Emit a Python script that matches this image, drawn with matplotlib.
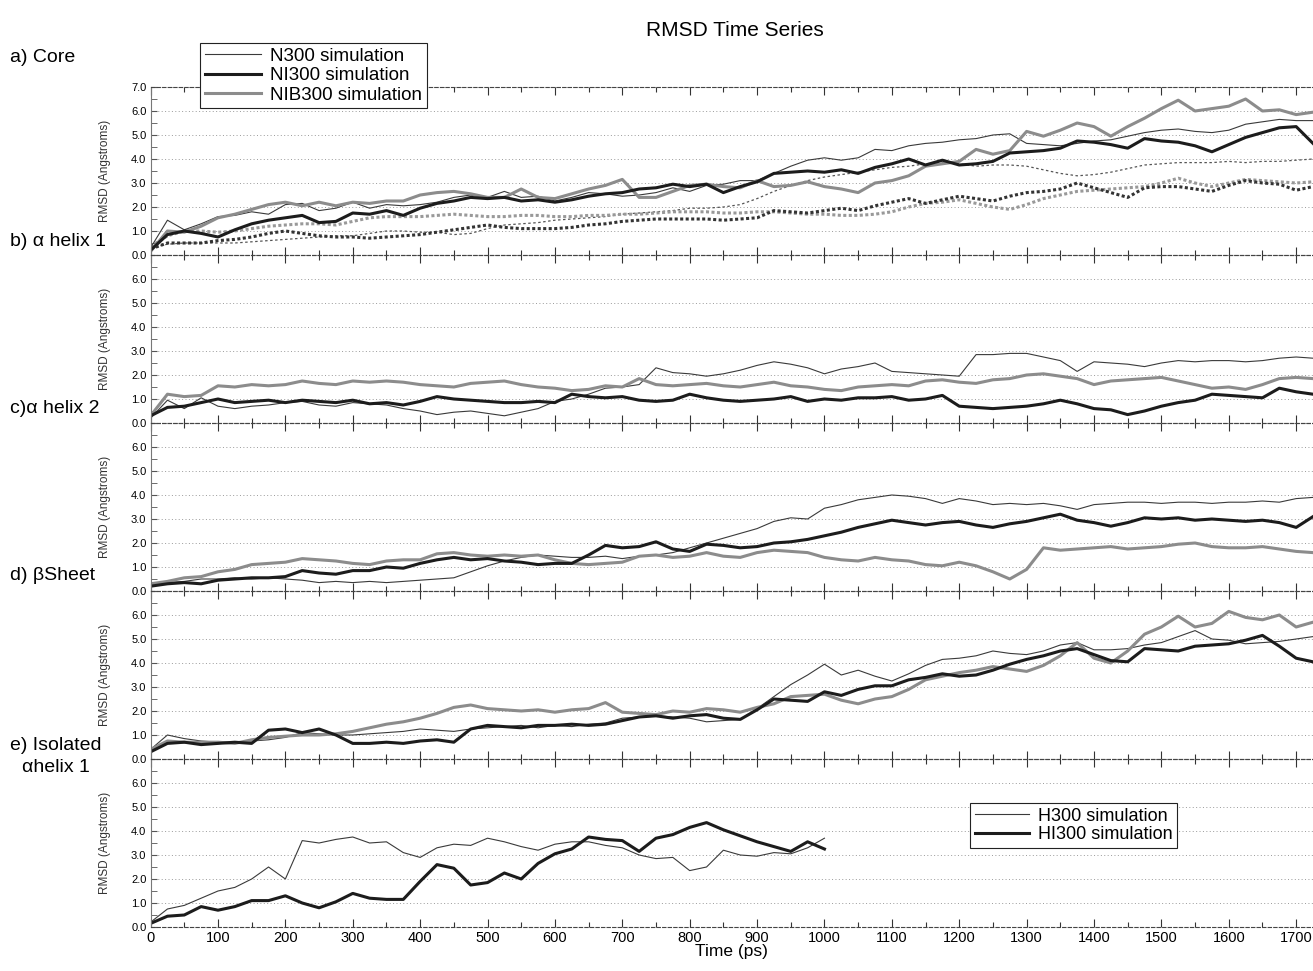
import numpy as np
import matplotlib
matplotlib.use("Agg")
import matplotlib.pyplot as plt
from matplotlib.ticker import MultipleLocator, FormatStrFormatter
from matplotlib.lines import Line2D

plt.rcParams['font.family'] = ['Liberation Sans', 'DejaVu Sans']

# sample times (ps)
time_ps = np.arange(0, 1750, 25)
time_iso = np.arange(0, 1025, 25)

# a) Core : solid = all atoms, dotted = second measure
core_N300 = [0.3, 1.45, 1.05, 1.3, 1.6, 1.65, 1.8, 1.7, 2.1, 2.15,
             1.85, 1.95, 2.2, 1.95, 2.1, 2.05, 2.1, 2.2, 2.4, 2.5,
             2.4, 2.65, 2.4, 2.45, 2.25, 2.4, 2.6, 2.55, 2.45, 2.5,
             2.6, 2.8, 2.65, 2.9, 2.95, 3.1, 3.1, 3.4, 3.7, 3.95,
             4.05, 3.95, 4.05, 4.4, 4.35, 4.55, 4.65, 4.7, 4.8, 4.85,
             5.0, 5.05, 4.65, 4.6, 4.55, 4.65, 4.75, 4.8, 4.95, 5.1,
             5.2, 5.25, 5.15, 5.1, 5.2, 5.45, 5.55, 5.65, 5.6, 5.6]
core_NI300 = [0.2, 0.85, 1.0, 0.9, 0.75, 1.05, 1.3, 1.45, 1.55, 1.65,
              1.35, 1.4, 1.75, 1.7, 1.85, 1.65, 1.95, 2.15, 2.25, 2.4,
              2.35, 2.4, 2.25, 2.3, 2.2, 2.3, 2.45, 2.55, 2.6, 2.75,
              2.8, 2.95, 2.85, 2.95, 2.6, 2.85, 3.05, 3.4, 3.45, 3.5,
              3.45, 3.55, 3.4, 3.65, 3.8, 4.0, 3.75, 3.95, 3.75, 3.8,
              3.9, 4.25, 4.3, 4.35, 4.45, 4.75, 4.7, 4.6, 4.45, 4.85,
              4.75, 4.7, 4.55, 4.3, 4.6, 4.9, 5.1, 5.3, 5.35, 4.65]
core_NIB300 = [0.15, 1.0, 0.95, 1.2, 1.55, 1.7, 1.9, 2.1, 2.2, 2.05,
               2.2, 2.05, 2.2, 2.15, 2.25, 2.25, 2.5, 2.6, 2.65, 2.55,
               2.4, 2.4, 2.75, 2.4, 2.35, 2.55, 2.75, 2.9, 3.15, 2.4,
               2.4, 2.65, 2.9, 2.95, 2.85, 2.8, 3.1, 2.85, 2.9, 3.05,
               2.85, 2.75, 2.6, 3.0, 3.1, 3.3, 3.7, 3.8, 3.9, 4.4,
               4.2, 4.35, 5.15, 4.95, 5.2, 5.5, 5.35, 4.95, 5.35, 5.7,
               6.1, 6.45, 6.0, 6.1, 6.2, 6.5, 6.0, 6.05, 5.85, 5.95]
core_N300_dot = [0.3, 0.45, 0.5, 0.5, 0.5, 0.5, 0.55, 0.6, 0.65, 0.7,
                 0.75, 0.8, 0.8, 0.9, 1.0, 1.0, 0.95, 0.95, 0.85, 0.9,
                 1.1, 1.25, 1.3, 1.35, 1.45, 1.5, 1.55, 1.6, 1.7, 1.75,
                 1.8, 1.85, 1.95, 1.95, 2.0, 2.1, 2.35, 2.65, 2.9, 3.1,
                 3.25, 3.35, 3.45, 3.55, 3.65, 3.7, 3.8, 3.85, 3.8, 3.7,
                 3.75, 3.75, 3.7, 3.55, 3.4, 3.3, 3.35, 3.45, 3.6, 3.75,
                 3.8, 3.85, 3.85, 3.85, 3.9, 3.85, 3.9, 3.9, 3.95, 4.0]
core_NI300_dot = [0.25, 0.5, 0.5, 0.5, 0.6, 0.65, 0.75, 0.9, 1.0, 0.9,
                  0.8, 0.75, 0.75, 0.7, 0.75, 0.8, 0.85, 0.95, 1.05, 1.15,
                  1.25, 1.15, 1.1, 1.1, 1.1, 1.15, 1.25, 1.3, 1.4, 1.45,
                  1.5, 1.5, 1.5, 1.5, 1.45, 1.5, 1.55, 1.85, 1.8, 1.75,
                  1.85, 1.95, 1.85, 2.05, 2.2, 2.35, 2.15, 2.3, 2.45, 2.35,
                  2.25, 2.45, 2.6, 2.65, 2.75, 3.0, 2.8, 2.6, 2.4, 2.8,
                  2.85, 2.85, 2.75, 2.65, 2.9, 3.1, 3.0, 2.95, 2.7, 2.85]
core_NIB300_dot = [0.35, 0.8, 1.0, 1.0, 0.95, 1.0, 1.1, 1.2, 1.25, 1.3,
                   1.3, 1.25, 1.4, 1.55, 1.6, 1.6, 1.6, 1.65, 1.7, 1.65,
                   1.6, 1.6, 1.65, 1.65, 1.6, 1.6, 1.65, 1.65, 1.7, 1.7,
                   1.75, 1.8, 1.8, 1.8, 1.75, 1.75, 1.8, 1.8, 1.75, 1.7,
                   1.7, 1.65, 1.65, 1.7, 1.8, 2.0, 2.15, 2.2, 2.3, 2.15,
                   2.0, 1.9, 2.1, 2.35, 2.5, 2.65, 2.7, 2.75, 2.8, 2.85,
                   3.0, 3.2, 3.0, 2.85, 3.0, 3.15, 3.1, 3.05, 3.0, 3.05]

# b) alpha helix 1
h1_N300 = [0.2, 0.95, 0.6, 1.05, 0.7, 0.6, 0.7, 0.75, 0.85, 0.9,
           0.75, 0.7, 0.85, 0.8, 0.75, 0.6, 0.5, 0.35, 0.45, 0.5,
           0.4, 0.3, 0.45, 0.6, 0.9, 1.0, 1.2, 1.45, 1.5, 1.6,
           2.3, 2.1, 2.05, 1.95, 2.05, 2.2, 2.4, 2.55, 2.45, 2.3,
           2.05, 2.25, 2.35, 2.5, 2.15, 2.1, 2.05, 2.0, 1.95, 2.85,
           2.85, 2.9, 2.9, 2.75, 2.6, 2.15, 2.55, 2.5, 2.45, 2.35,
           2.5, 2.6, 2.55, 2.6, 2.6, 2.55, 2.6, 2.7, 2.75, 2.7]
h1_NI300 = [0.3, 0.65, 0.7, 0.85, 1.0, 0.85, 0.9, 0.95, 0.85, 0.95,
            0.9, 0.85, 0.95, 0.8, 0.85, 0.75, 0.9, 1.1, 1.0, 0.95,
            0.9, 0.85, 0.85, 0.9, 0.85, 1.2, 1.1, 1.05, 1.1, 0.95,
            0.9, 0.95, 1.2, 1.05, 0.95, 0.9, 0.95, 1.0, 1.1, 0.9,
            1.0, 0.95, 1.05, 1.05, 1.1, 0.95, 1.0, 1.15, 0.7, 0.65,
            0.6, 0.65, 0.7, 0.8, 0.95, 0.8, 0.6, 0.55, 0.35, 0.5,
            0.7, 0.85, 0.95, 1.2, 1.15, 1.1, 1.05, 1.45, 1.3, 1.2]
h1_NIB300 = [0.3, 1.2, 1.1, 1.15, 1.55, 1.5, 1.6, 1.55, 1.6, 1.75,
             1.65, 1.6, 1.75, 1.7, 1.75, 1.7, 1.6, 1.55, 1.5, 1.65,
             1.7, 1.75, 1.6, 1.5, 1.45, 1.35, 1.4, 1.55, 1.5, 1.85,
             1.6, 1.55, 1.6, 1.65, 1.55, 1.5, 1.6, 1.7, 1.55, 1.5,
             1.4, 1.35, 1.5, 1.55, 1.6, 1.55, 1.75, 1.8, 1.7, 1.65,
             1.8, 1.85, 2.0, 2.05, 1.95, 1.85, 1.6, 1.75, 1.8, 1.85,
             1.9, 1.75, 1.6, 1.45, 1.5, 1.4, 1.6, 1.85, 1.9, 1.85]

# c) alpha helix 2
h2_N300 = [0.2, 0.35, 0.4, 0.5, 0.5, 0.55, 0.5, 0.55, 0.5, 0.45,
           0.35, 0.4, 0.35, 0.4, 0.35, 0.4, 0.45, 0.5, 0.55, 0.8,
           1.05, 1.25, 1.4, 1.5, 1.45, 1.4, 1.4, 1.45, 1.35, 1.45,
           1.5, 1.6, 1.8, 2.0, 2.2, 2.4, 2.6, 2.9, 3.05, 3.0,
           3.45, 3.6, 3.8, 3.9, 4.0, 3.95, 3.85, 3.65, 3.85, 3.75,
           3.6, 3.65, 3.6, 3.65, 3.55, 3.4, 3.6, 3.65, 3.7, 3.7,
           3.65, 3.7, 3.7, 3.65, 3.7, 3.7, 3.75, 3.7, 3.85, 3.9]
h2_NI300 = [0.2, 0.3, 0.35, 0.3, 0.45, 0.5, 0.55, 0.55, 0.6, 0.85,
            0.75, 0.7, 0.85, 0.85, 1.0, 0.95, 1.15, 1.3, 1.4, 1.3,
            1.35, 1.25, 1.2, 1.1, 1.15, 1.15, 1.5, 1.9, 1.8, 1.85,
            2.05, 1.75, 1.65, 1.95, 1.9, 1.8, 1.85, 2.0, 2.05, 2.15,
            2.3, 2.45, 2.65, 2.8, 2.95, 2.85, 2.75, 2.85, 2.9, 2.75,
            2.65, 2.8, 2.9, 3.05, 3.2, 2.95, 2.85, 2.7, 2.85, 3.05,
            3.0, 3.05, 2.95, 3.0, 2.95, 2.9, 2.95, 2.85, 2.65, 3.1]
h2_NIB300 = [0.3, 0.4, 0.55, 0.6, 0.8, 0.9, 1.1, 1.15, 1.2, 1.35,
             1.3, 1.25, 1.15, 1.1, 1.25, 1.3, 1.3, 1.55, 1.6, 1.5,
             1.45, 1.5, 1.45, 1.5, 1.3, 1.15, 1.1, 1.15, 1.2, 1.45,
             1.5, 1.4, 1.45, 1.6, 1.45, 1.4, 1.6, 1.7, 1.65, 1.6,
             1.4, 1.3, 1.25, 1.4, 1.3, 1.25, 1.1, 1.05, 1.2, 1.05,
             0.8, 0.5, 0.9, 1.8, 1.7, 1.75, 1.8, 1.85, 1.75, 1.8,
             1.85, 1.95, 2.0, 1.85, 1.8, 1.8, 1.85, 1.75, 1.65, 1.6]

# d) beta sheet
bs_N300 = [0.4, 1.0, 0.85, 0.75, 0.7, 0.7, 0.75, 0.8, 0.9, 1.1,
           1.05, 1.0, 1.0, 1.05, 1.1, 1.15, 1.25, 1.2, 1.15, 1.25,
           1.3, 1.35, 1.4, 1.3, 1.4, 1.35, 1.45, 1.5, 1.7, 1.75,
           1.8, 1.75, 1.7, 1.55, 1.6, 1.65, 2.1, 2.6, 3.1, 3.5,
           3.95, 3.5, 3.7, 3.45, 3.25, 3.55, 3.9, 4.15, 4.2, 4.3,
           4.5, 4.4, 4.35, 4.5, 4.75, 4.85, 4.55, 4.55, 4.6, 4.75,
           4.85, 5.1, 5.35, 5.0, 4.95, 4.8, 4.85, 4.9, 5.0, 5.1]
bs_NI300 = [0.3, 0.65, 0.7, 0.6, 0.65, 0.7, 0.65, 1.2, 1.25, 1.1,
            1.25, 1.0, 0.65, 0.65, 0.7, 0.65, 0.75, 0.8, 0.7, 1.25,
            1.4, 1.35, 1.3, 1.4, 1.4, 1.45, 1.4, 1.45, 1.6, 1.75,
            1.8, 1.7, 1.8, 1.85, 1.7, 1.65, 2.05, 2.5, 2.45, 2.4,
            2.8, 2.65, 2.9, 3.05, 3.05, 3.3, 3.4, 3.55, 3.45, 3.5,
            3.7, 3.95, 4.15, 4.3, 4.5, 4.6, 4.35, 4.1, 4.05, 4.6,
            4.55, 4.5, 4.7, 4.75, 4.8, 4.95, 5.15, 4.7, 4.2, 4.05]
bs_NIB300 = [0.4, 0.75, 0.7, 0.7, 0.7, 0.65, 0.8, 0.9, 0.95, 1.0,
             1.0, 1.05, 1.15, 1.3, 1.45, 1.55, 1.7, 1.9, 2.15, 2.25,
             2.1, 2.05, 2.0, 2.05, 1.95, 2.05, 2.1, 2.35, 1.95, 1.9,
             1.85, 2.0, 1.95, 2.1, 2.05, 1.95, 2.15, 2.3, 2.6, 2.65,
             2.7, 2.45, 2.3, 2.5, 2.6, 2.9, 3.3, 3.45, 3.6, 3.7,
             3.85, 3.75, 3.65, 3.9, 4.3, 4.85, 4.2, 4.0, 4.5, 5.2,
             5.5, 5.95, 5.5, 5.65, 6.15, 5.9, 5.8, 6.0, 5.5, 5.7]

# e) isolated alpha helix 1
iso_H300 = [0.2, 0.75, 0.9, 1.2, 1.5, 1.65, 2.0, 2.5, 2.0, 3.6,
            3.5, 3.65, 3.75, 3.5, 3.55, 3.1, 2.9, 3.3, 3.45, 3.4,
            3.7, 3.55, 3.35, 3.2, 3.45, 3.55, 3.55, 3.4, 3.3, 3.0,
            2.85, 2.9, 2.35, 2.5, 3.2, 3.0, 2.95, 3.1, 3.05, 3.3,
            3.7]
iso_HI300 = [0.15, 0.45, 0.5, 0.85, 0.7, 0.85, 1.1, 1.1, 1.3, 1.0,
             0.8, 1.05, 1.4, 1.2, 1.15, 1.15, 1.9, 2.6, 2.45, 1.75,
             1.85, 2.25, 2.0, 2.65, 3.05, 3.25, 3.75, 3.65, 3.6, 3.15,
             3.7, 3.85, 4.15, 4.35, 4.05, 3.8, 3.55, 3.35, 3.15, 3.55,
             3.25]

panel_names = ['a) Core', 'b) \u03b1 helix 1', 'c)\u03b1 helix 2', 'd) \u03b2Sheet', 'e) Isolated']
panel_label_y = [57, 242, 408, 575, 745]

thin = dict(color='#3a3a3a', lw=0.8)
thick_k = dict(color='#1c1c1c', lw=2.2)
thick_g = dict(color='#8c8c8c', lw=2.2)

W, H = 1313, 971
fig = plt.figure(figsize=(W / 100, H / 100), dpi=100)

left_px = 150.6
tops = [87, 255, 423, 591, 759]
panel_h = 168
axes = []
for i, top in enumerate(tops):
    ax = fig.add_axes([left_px / W, 1 - (top + panel_h) / H, 1 - left_px / W, panel_h / H])
    ax.set_xlim(0, 1725)
    ax.set_ylim(0, 7)
    ax.xaxis.set_major_locator(MultipleLocator(100))
    ax.xaxis.set_minor_locator(MultipleLocator(50))
    ax.set_yticks(np.arange(0, 8 if i == 0 else 7, 1.0))
    ax.yaxis.set_minor_locator(MultipleLocator(0.5))
    ax.yaxis.set_major_formatter(FormatStrFormatter('%.1f'))
    ax.tick_params(axis='x', which='both', direction='in', top=True, bottom=True,
                   color='#333333', width=0.8, labelbottom=(i == 4), labelsize=10.5, pad=3)
    ax.tick_params(axis='x', which='major', length=6)
    ax.tick_params(axis='x', which='minor', length=3.5)
    ax.tick_params(axis='y', which='both', direction='in', length=4, color='#555555',
                   labelsize=8, pad=3, right=False)
    ax.grid(axis='y', which='major', linestyle=(0, (1, 2.5)), color='#9a9a9a', lw=0.7)
    for side in ['top', 'bottom']:
        ax.spines[side].set_linestyle((0, (3, 2)))
        ax.spines[side].set_color('#444444')
        ax.spines[side].set_linewidth(0.8)
    ax.spines['left'].set_color('#777777')
    ax.spines['right'].set_visible(False)
    ax.set_ylabel('RMSD (Angstroms)', fontsize=8.5, color='#333333')
    ax.yaxis.set_label_coords(-40 / (W - left_px), 0.5)
    ax.set_facecolor('none')
    axes.append(ax)

ax = axes[0]
ax.plot(time_ps, core_N300_dot, color='#555555', lw=0.9, linestyle=(0, (2, 2)))
ax.plot(time_ps, core_NIB300_dot, color='#999999', lw=2.2, linestyle=(0, (1, 0.8)))
ax.plot(time_ps, core_NI300_dot, color='#333333', lw=2.2, linestyle=(0, (1, 0.8)))
ax.plot(time_ps, core_N300, **thin)
ax.plot(time_ps, core_NIB300, **thick_g)
ax.plot(time_ps, core_NI300, **thick_k)

for ax, (s1, s2, s3) in zip(axes[1:4], [(h1_N300, h1_NI300, h1_NIB300),
                                       (h2_N300, h2_NI300, h2_NIB300),
                                       (bs_N300, bs_NI300, bs_NIB300)]):
    ax.plot(time_ps, s1, **thin)
    ax.plot(time_ps, s3, **thick_g)
    ax.plot(time_ps, s2, **thick_k)

ax = axes[4]
ax.plot(time_iso, iso_H300, **thin)
ax.plot(time_iso, iso_HI300, **thick_k)
ax.set_xlabel('Time (ps)', fontsize=12.5, labelpad=-1)

for name, y in zip(panel_names, panel_label_y):
    fig.text(10 / W, 1 - y / H, name, fontsize=14, va='center', ha='left')
fig.text(22 / W, 1 - 768 / H, '\u03b1helix 1', fontsize=14, va='center', ha='left')

fig.text(735 / W, 1 - 30 / H, 'RMSD Time Series', fontsize=15, ha='center', va='center')

leg1 = fig.legend([Line2D([], [], **thin), Line2D([], [], **thick_k), Line2D([], [], **thick_g)],
                  ['N300 simulation', 'NI300 simulation', 'NIB300 simulation'],
                  loc='upper left', bbox_to_anchor=(200 / W, 1 - 43 / H), fontsize=13.5,
                  frameon=True, fancybox=False, edgecolor='#222222', framealpha=1,
                  handlelength=3.0, labelspacing=0.12, borderpad=0.25, handletextpad=0.5,
                  borderaxespad=0)
leg1.get_frame().set_linewidth(0.8)

leg2 = fig.legend([Line2D([], [], **thin), Line2D([], [], **thick_k)],
                  ['H300 simulation', 'HI300 simulation'],
                  loc='upper left', bbox_to_anchor=(970 / W, 1 - 803 / H), fontsize=13,
                  frameon=True, fancybox=False, edgecolor='#222222', framealpha=1,
                  handlelength=3.0, labelspacing=0.1, borderpad=0.25, handletextpad=0.5,
                  borderaxespad=0)
leg2.get_frame().set_linewidth(0.8)

fig.savefig('out.png', dpi=100)
